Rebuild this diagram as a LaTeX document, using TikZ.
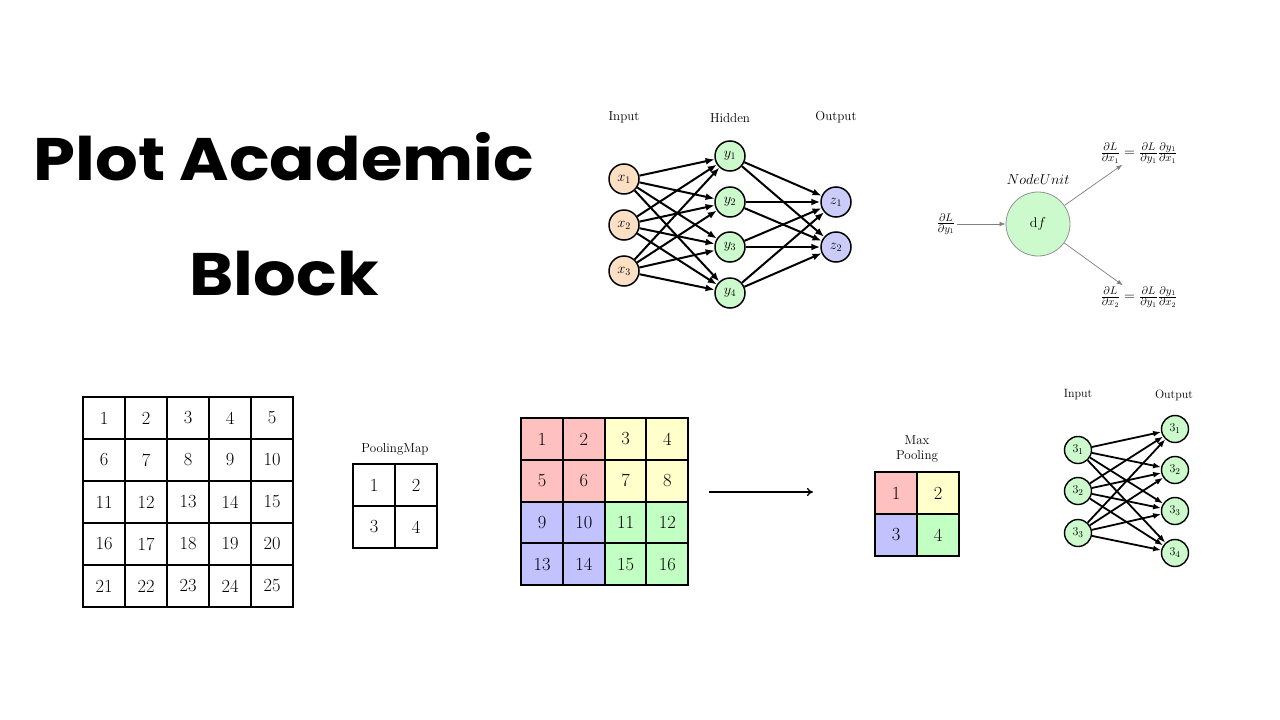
\documentclass[tikz,border=0pt]{standalone}
\usepackage{fontspec}
\newfontfamily\titlefont{Poppins}
\usetikzlibrary{arrows.meta}
\definecolor{nodeorange}{HTML}{FDDFC4}
\definecolor{nodegreen}{HTML}{CCFACC}
\definecolor{nodeblue}{HTML}{CCCCFA}
\definecolor{cred}{HTML}{FFC0C0}
\definecolor{cyellow}{HTML}{FFFFCC}
\definecolor{cblue}{HTML}{C2C2FF}
\definecolor{cgreen}{HTML}{C2FFC2}
\begin{document}
\begin{tikzpicture}[x=1pt,y=-1pt,
  neuron/.style={circle,draw,line width=1.5pt,minimum size=30pt,inner sep=0pt,font=\fontsize{14}{16}\selectfont},
  sneuron/.style={circle,draw,line width=1.4pt,fill=nodegreen,minimum size=27pt,inner sep=0pt,font=\fontsize{13}{15}\selectfont},
  conn/.style={-{Latex[length=9pt,width=7pt]},line width=2pt},
  sconn/.style={-{Latex[length=8pt,width=6pt]},line width=1.8pt},
  cell/.style={draw,line width=2pt,minimum size=42pt,inner sep=0pt,font=\fontsize{18.5}{20}\selectfont},
  lbl/.style={font=\fontsize{13}{15}\selectfont},
  slbl/.style={font=\fontsize{12}{14}\selectfont},
  frm/.style={font=\fontsize{15}{17}\selectfont,inner sep=1pt},
  title/.style={font=\titlefont\bfseries\fontsize{60}{66}\selectfont,anchor=base,xscale=1.12},
  grad/.style={-{Latex[length=6pt,width=4.5pt]},draw=gray,line width=0.7pt},
]
\path[use as bounding box,fill=white] (0,0) rectangle (1280,720);

% Title
\node[title] (t1) at (284,180) {Plot Academic};
\node[title] (t2) at (284,295) {Block};

% Top neural network
\node[lbl] (inlab) at (624,117) {Input};
\node[lbl] (hidlab) at (730,118) {Hidden};
\node[lbl] (outlab) at (836,117) {Output};
\foreach \i/\y in {1/179,2/225,3/271}
  \node[neuron,fill=nodeorange] (x\i) at (624,\y) {$x_{\i}$};
\foreach \i/\y in {1/156,2/202,3/247,4/293}
  \node[neuron,fill=nodegreen] (y\i) at (730,\y) {$y_{\i}$};
\foreach \i/\y in {1/202,2/247}
  \node[neuron,fill=nodeblue] (z\i) at (836,\y) {$z_{\i}$};
\foreach \a in {1,2,3}
  \foreach \b in {1,2,3,4}
    \draw[conn] (x\a) -- (y\b);
\foreach \a in {1,2,3,4}
  \foreach \b in {1,2}
    \draw[conn] (y\a) -- (z\b);

% NodeUnit
\node[circle,draw=gray!85,line width=0.8pt,fill=nodegreen,minimum size=64pt,inner sep=0pt,font=\fontsize{14}{16}\selectfont] (nu) at (1038,224) {$\mathrm{d}f$};
\node[font=\fontsize{14}{16}\selectfont] (nulab) at (1038,179) {$NodeUnit$};
\node[frm] (din) at (946,224) {$\frac{\partial L}{\partial y_1}$};
\node[frm] (dx1) at (1139,153) {$\frac{\partial L}{\partial x_1}=\frac{\partial L}{\partial y_1}\frac{\partial y_1}{\partial x_1}$};
\node[frm] (dx2) at (1139,297) {$\frac{\partial L}{\partial x_2}=\frac{\partial L}{\partial y_1}\frac{\partial y_1}{\partial x_2}$};
\draw[grad] (din) -- (nu);
\draw[grad] (nu) -- (dx1);
\draw[grad] (nu) -- (dx2);

% 5x5 grid
\foreach \r in {0,...,4}
  \foreach \c in {0,...,4} {
    \pgfmathtruncatemacro{\n}{\r*5+\c+1}
    \node[cell] (g\r\c) at ({83+21+42*\c},{397+21+42*\r}) {\n};
  }

% Pooling map
\node[lbl] (pmlab) at (395,449) {PoolingMap};
\node[cell] (p00) at (374,485) {1};
\node[cell] (p01) at (416,485) {2};
\node[cell] (p10) at (374,527) {3};
\node[cell] (p11) at (416,527) {4};

% coloured 4x4 grid
\foreach \r in {0,...,3}
  \foreach \c in {0,...,3} {
    \pgfmathtruncatemacro{\n}{\r*4+\c+1}
    \pgfmathtruncatemacro{\q}{2*int(\r/2)+int(\c/2)}
    \ifcase\q \def\cc{cred}\or \def\cc{cyellow}\or \def\cc{cblue}\or \def\cc{cgreen}\fi
    \node[cell,fill=\cc] (c\r\c) at ({521+21+41.75*\c},{418+21+41.75*\r}) {\n};
  }

% arrow
\coordinate (as) at (709,492);
\coordinate (ae) at (813,492);
\draw[-{To[length=6pt,width=8pt]},line width=1.3pt] (as) -- (ae);

% Max pooling
\node[lbl,align=center] (mplab) at (917,449) {Max\\Pooling};
\node[cell,fill=cred] (m00) at (896,493) {1};
\node[cell,fill=cyellow] (m01) at (938,493) {2};
\node[cell,fill=cblue] (m10) at (896,535) {3};
\node[cell,fill=cgreen] (m11) at (938,535) {4};

% small network
\node[slbl] (sin) at (1078,395) {Input};
\node[slbl] (sout) at (1174,395) {Output};
\foreach \i/\y in {1/450,2/491,3/533}
  \node[sneuron] (a\i) at (1078,\y) {$3_{\i}$};
\foreach \i/\y in {1/429,2/470,3/511,4/553}
  \node[sneuron] (b\i) at (1175,\y) {$3_{\i}$};
\foreach \a in {1,2,3}
  \foreach \b in {1,2,3,4}
    \draw[sconn] (a\a) -- (b\b);
\end{tikzpicture}
\end{document}
